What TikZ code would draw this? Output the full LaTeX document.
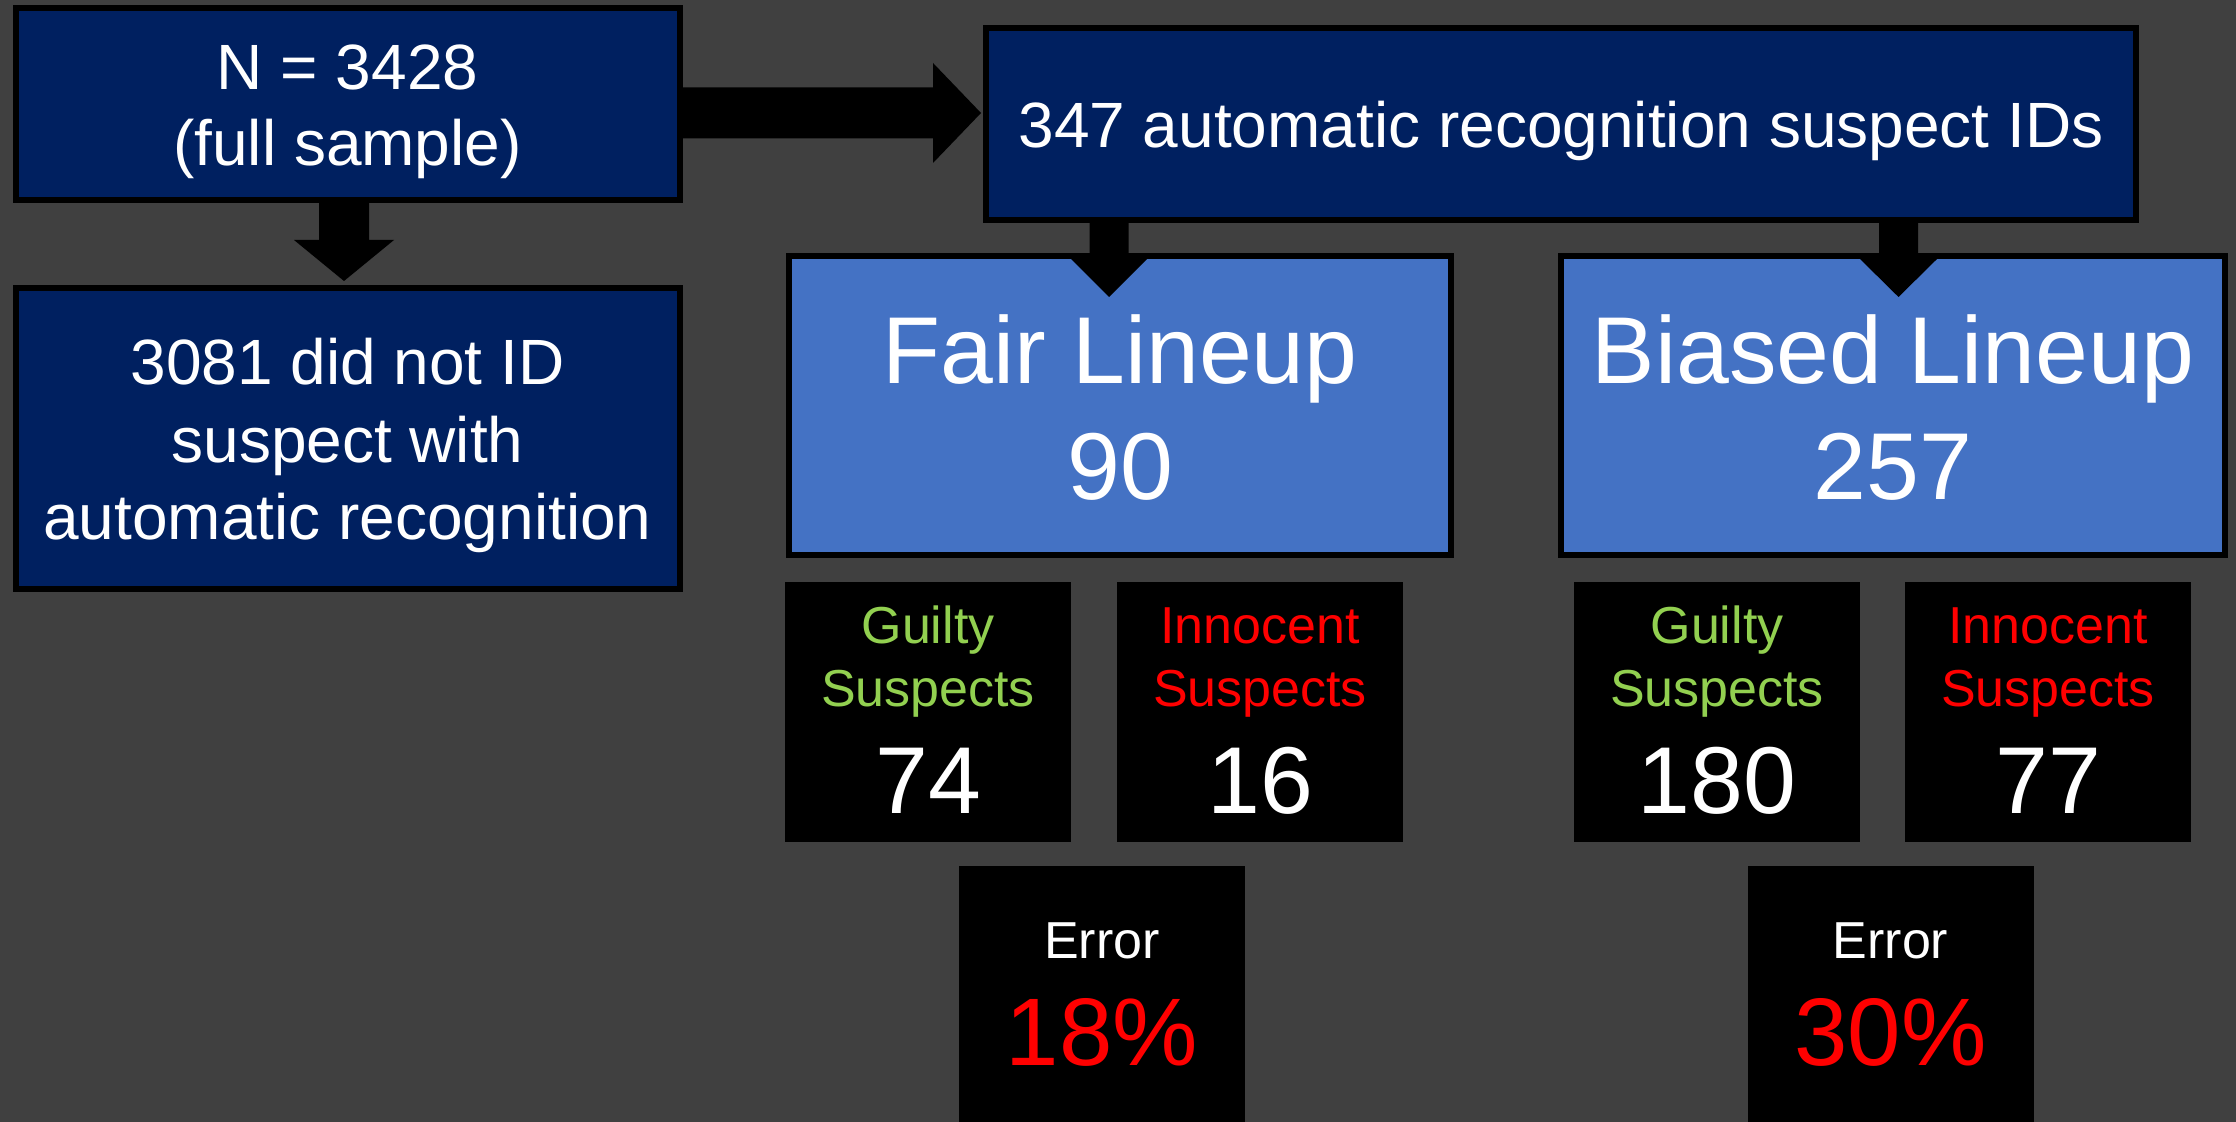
\documentclass[tikz,border=0pt]{standalone}
\usepackage{fontspec}
\setmainfont{Liberation Sans}
\usetikzlibrary{calc}

\definecolor{bg}{HTML}{404040}
\definecolor{navy}{HTML}{002060}
\definecolor{lineupblue}{HTML}{4472C4}
\definecolor{guiltygreen}{HTML}{92D050}
\definecolor{alertred}{HTML}{FF0000}

% block arrow pointing down: #1 start, #2 tip (same x), #3 shaft half width, #4 head half width, #5 head length
\newcommand\blkdown[5]{%
  \fill[blockarrow] ($(#1)+(-#3,0)$) -- ($(#2)+(-#3,-#5)$) -- ($(#2)+(-#4,-#5)$) -- (#2)
    -- ($(#2)+(#4,-#5)$) -- ($(#2)+(#3,-#5)$) -- ($(#1)+(#3,0)$) -- cycle;}
% block arrow pointing right: #1 start, #2 tip (same y)
\newcommand\blkright[5]{%
  \fill[blockarrow] ($(#1)+(0,-#3)$) -- ($(#2)+(-#5,-#3)$) -- ($(#2)+(-#5,-#4)$) -- (#2)
    -- ($(#2)+(-#5,#4)$) -- ($(#2)+(-#5,#3)$) -- ($(#1)+(0,#3)$) -- cycle;}

\begin{document}
\begin{tikzpicture}[x=0.5pt,y=-0.5pt,
  navybox/.style={draw=black, line width=3pt, fill=navy, inner sep=0pt},
  bluebox/.style={draw=black, line width=3pt, fill=lineupblue, inner sep=0pt,
    minimum height=149.5pt},
  countbox/.style={fill=black, inner sep=0pt, minimum width=143pt, minimum height=130pt},
  errbox/.style={fill=black, inner sep=0pt, minimum width=143pt, minimum height=128pt},
  blockarrow/.style={fill=black},
  lbl/.style={anchor=base, inner sep=0pt, text=white},
  midtxt/.style={font=\fontsize{32}{38}\selectfont},
  bigtxt/.style={font=\fontsize{47.5}{58}\selectfont},
  smalltxt/.style={font=\fontsize{26}{31.5}\selectfont},
  pcttxt/.style={font=\fontsize{48}{58}\selectfont, text=alertred},
  gtxt/.style={smalltxt, text=guiltygreen},
  itxt/.style={smalltxt, text=alertred}]

\fill[bg] (0,0) rectangle (2236,1122);
\useasboundingbox (0,0) rectangle (2236,1122);

% top row and left column
\node[navybox, minimum width=332pt, minimum height=96pt] (nbox) at (347.5,104) {};
\node[navybox, minimum width=332pt, minimum height=150.5pt] (dnbox) at (347.5,438.5) {};
\node[navybox, minimum width=575pt, minimum height=96pt] (autobox) at (1561,124) {};

% lineup boxes
\node[bluebox, minimum width=331pt] (fair) at (1120,405.5) {};
\node[bluebox, minimum width=332pt] (biased) at (1893,405.5) {};

% suspect counts and error rates
\node[countbox] (gf) at (928,712) {};
\node[countbox] (inf) at (1260,712) {};
\node[countbox] (gb) at (1717,712) {};
\node[countbox] (inb) at (2048,712) {};
\node[errbox] (ef) at (1102,994) {};
\node[errbox] (eb) at (1890.5,994) {};

% texts
\node[lbl, midtxt] (t1a) at ($(nbox.center)+(0,-14)$) {N = 3428};
\node[lbl, midtxt] (t1b) at ($(nbox.center)+(0,62)$) {(full sample)};
\node[lbl, midtxt] (t2) at ($(autobox.center)+(0,24)$) {347 automatic recognition suspect IDs};
\node[lbl, midtxt] (t3a) at ($(dnbox.center)+(0,-53.5)$) {3081 did not ID};
\node[lbl, midtxt] (t3b) at ($(dnbox.center)+(0,24.5)$) {suspect with};
\node[lbl, midtxt] (t3c) at ($(dnbox.center)+(0,100.5)$) {automatic recognition};

\node[lbl, bigtxt] (tfa) at ($(fair.center)+(0,-21.5)$) {Fair Lineup};
\node[lbl, bigtxt] (tfb) at ($(fair.center)+(0,94.5)$) {90};
\node[lbl, bigtxt] (tba) at ($(biased.center)+(0,-21.5)$) {Biased Lineup};
\node[lbl, bigtxt] (tbb) at ($(biased.center)+(0,94.5)$) {257};

\foreach \b/\cls/\word/\num in {gf/gtxt/Guilty/74, inf/itxt/Innocent/16,
                                 gb/gtxt/Guilty/180, inb/itxt/Innocent/77} {
  \node[lbl, \cls] (\b-w) at ($(\b.center)+(0,-69)$) {\word};
  \node[lbl, \cls] (\b-s) at ($(\b.center)+(0,-6)$) {Suspects};
  \node[lbl, bigtxt] (\b-n) at ($(\b.center)+(0,101)$) {\num};
}

\node[lbl, smalltxt] (efa) at ($(ef.center)+(0,-36)$) {Error};
\node[lbl, pcttxt] (efb) at ($(ef.center)+(0,71)$) {18\%};
\node[lbl, smalltxt] (eba) at ($(eb.center)+(0,-36)$) {Error};
\node[lbl, pcttxt] (ebb) at ($(eb.center)+(0,71)$) {30\%};

% block arrows
\coordinate (ra0) at ($(nbox.east)+(0,9)$);
\coordinate (ratip) at ($(autobox.west |- ra0)+(-2,0)$);
\blkright{ra0}{ratip}{25.5}{50}{48}

\coordinate (da0) at ($(nbox.south)+(-3.5,0)$);
\coordinate (datip) at ($(da0 |- dnbox.north)+(0,-4)$);
\blkdown{da0}{datip}{25}{50}{41}

\coordinate (fatip) at ($(fair.north)+(-11,44)$);
\coordinate (fa0) at (fatip |- autobox.south);
\blkdown{fa0}{fatip}{19.5}{38}{38}

\coordinate (batip) at ($(biased.north)+(5.5,44)$);
\coordinate (ba0) at (batip |- autobox.south);
\blkdown{ba0}{batip}{19.5}{38.5}{38}

\end{tikzpicture}
\end{document}
